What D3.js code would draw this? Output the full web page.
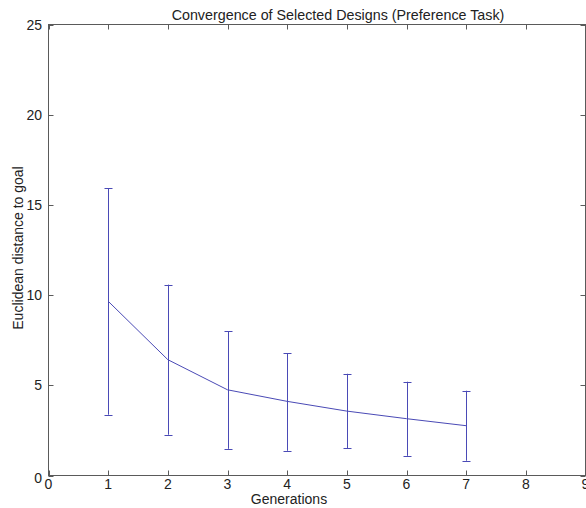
<!DOCTYPE html>
<html>
<head>
<meta charset="utf-8">
<script src="https://cdn.jsdelivr.net/npm/d3@7"></script>
<style>
  html, body { margin: 0; padding: 0; background: #fff; }
  svg { display: block; font-family: "Liberation Sans", Arial, Helvetica, sans-serif; }
</style>
</head>
<body>
<svg id="chart" width="586" height="508"></svg>
<script>
// Mean distance to goal per generation, with lower/upper error-bar ends
const generations = [1, 2, 3, 4, 5, 6, 7];
const meanDistance = [9.66, 6.42, 4.75, 4.11, 3.57, 3.15, 2.76];
const lowerBound   = [3.37, 2.26, 1.48, 1.37, 1.50, 1.09, 0.82];
const upperBound   = [15.93, 10.58, 7.99, 6.79, 5.64, 5.20, 4.70];
const xTicks = [0, 1, 2, 3, 4, 5, 6, 7, 8, 9];
const yTicks = [0, 5, 10, 15, 20, 25];

const svg = d3.select("#chart");
const plotLeft = 48.5, plotRight = 585.5, plotTop = 24.5, plotBottom = 475.5;

const x = d3.scaleLinear().domain([0, 9]).range([plotLeft, plotRight]);
const y = d3.scaleLinear().domain([0, 25]).range([plotBottom, plotTop]);

const axisColor = "#5a5a5a";
const lineColor = "#4a4ab6";
const textColor = "#222";
const tickLen = 5;

// Frame
svg.append("rect")
  .attr("x", plotLeft).attr("y", plotTop)
  .attr("width", plotRight - plotLeft).attr("height", plotBottom - plotTop)
  .attr("fill", "none").attr("stroke", axisColor).attr("stroke-width", 1);

// Inward ticks on all four sides
const g = svg.append("g");
xTicks.forEach(t => {
  const px = Math.round(x(t)) + 0.5;
  g.append("line").attr("x1", px).attr("x2", px).attr("y1", plotBottom).attr("y2", plotBottom - tickLen)
    .attr("stroke", axisColor);
  g.append("line").attr("x1", px).attr("x2", px).attr("y1", plotTop).attr("y2", plotTop + tickLen)
    .attr("stroke", axisColor);
  g.append("text").attr("x", x(t)).attr("y", 489)
    .attr("text-anchor", "middle").attr("font-size", 14).attr("fill", textColor)
    .text(t);
});
yTicks.forEach(t => {
  const py = Math.round(y(t)) + 0.5;
  g.append("line").attr("x1", plotLeft).attr("x2", plotLeft + tickLen).attr("y1", py).attr("y2", py)
    .attr("stroke", axisColor);
  g.append("line").attr("x1", plotRight).attr("x2", plotRight - tickLen).attr("y1", py).attr("y2", py)
    .attr("stroke", axisColor);
  g.append("text").attr("x", 42).attr("y", y(t) + (t === 0 ? 7 : 5))
    .attr("text-anchor", "end").attr("font-size", 14).attr("fill", textColor)
    .text(t);
});

// Mean line
const line = d3.line()
  .x((d, i) => x(generations[i]))
  .y(d => y(d));
svg.append("path")
  .datum(meanDistance)
  .attr("d", line)
  .attr("fill", "none")
  .attr("stroke", lineColor)
  .attr("stroke-width", 1);

// Error bars
const capHalf = 4;
const bars = svg.append("g").attr("stroke", lineColor).attr("stroke-width", 1);
generations.forEach((gen, i) => {
  const px = Math.round(x(gen)) + 0.5;
  bars.append("line").attr("x1", px).attr("x2", px)
    .attr("y1", y(lowerBound[i])).attr("y2", y(upperBound[i]));
  [lowerBound[i], upperBound[i]].forEach(v => {
    const py = Math.round(y(v)) + 0.5;
    bars.append("line").attr("x1", px - capHalf).attr("x2", px + capHalf)
      .attr("y1", py).attr("y2", py);
  });
});

// Title and axis labels
svg.append("text").attr("x", 338).attr("y", 20)
  .attr("text-anchor", "middle").attr("font-size", 14.3).attr("fill", textColor)
  .text("Convergence of Selected Designs (Preference Task)");
svg.append("text").attr("x", 289).attr("y", 504)
  .attr("text-anchor", "middle").attr("font-size", 14).attr("fill", textColor)
  .text("Generations");
svg.append("text")
  .attr("transform", "translate(23,248) rotate(-90)")
  .attr("text-anchor", "middle").attr("font-size", 14).attr("fill", textColor)
  .text("Euclidean distance to goal");
</script>
</body>
</html>
